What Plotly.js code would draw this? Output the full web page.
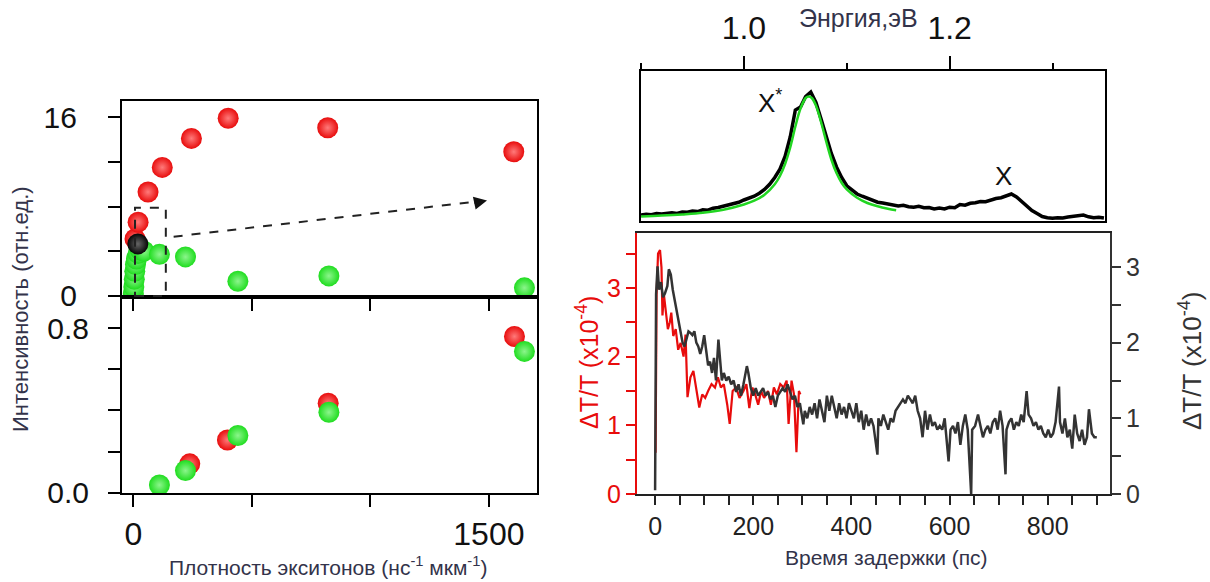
<!DOCTYPE html>
<html><head><meta charset="utf-8">
<script src="https://cdn.plot.ly/plotly-3.0.1.min.js"></script>
<style>body{margin:0;background:#fff}#chart{width:1210px;height:582px}</style>
</head><body><div id="chart"></div>
<script>
// ---- Left panels: intensity vs exciton density ----
const topRedX = [7, 20, 62, 122, 245, 400, 820, 1605];
const topRedY = [5.1, 6.6, 9.3, 11.5, 14.1, 15.9, 15.05, 12.9];
const topGreenX = [0, 2, 4, 6, 9, 13, 20, 30, 45, 110, 220, 441, 825, 1650];
const topGreenY = [0.2, 0.8, 1.5, 2.2, 2.8, 3.3, 3.8, 4.1, 4.0, 3.72, 3.49, 1.31, 1.79, 0.72];
const topBlackX = [19];
const topBlackY = [4.65];
const botRedX = [238, 397, 822, 1608];
const botRedY = [0.14, 0.256, 0.435, 0.76];
const botGreenX = [110, 220, 441, 825, 1650];
const botGreenY = [0.037, 0.107, 0.278, 0.391, 0.687];

// ---- Spectrum (top right) ----
const energy = [0.900,0.905,0.910,0.915,0.920,0.925,0.930,0.935,0.940,0.945,0.950,0.955,0.960,0.965,0.970,0.975,0.980,0.985,0.990,0.995,
1.000,1.005,1.010,1.015,1.020,1.025,1.030,1.035,1.040,1.045,1.050,1.055,1.060,1.065,1.070,1.075,1.080,1.085,1.090,1.095,
1.100,1.105,1.110,1.115,1.120,1.125,1.130,1.135,1.140,1.145,1.150,1.155,1.160,1.165,1.170,1.175,1.180,1.185,1.190,1.195,
1.200,1.205,1.210,1.215,1.220,1.225,1.230,1.235,1.240,1.245,1.250,1.255,1.260,1.265,1.270,1.275,1.280,1.285,1.290,1.295,
1.300,1.305,1.310,1.315,1.320,1.325,1.330,1.335,1.340,1.345,1.350];
const plSignal = [0.040,0.045,0.042,0.050,0.046,0.052,0.055,0.050,0.060,0.058,0.066,0.063,0.075,0.072,0.085,0.090,0.098,0.110,0.120,0.125,
0.140,0.150,0.165,0.185,0.210,0.245,0.290,0.345,0.430,0.560,0.740,0.760,0.830,0.860,0.790,0.680,0.560,0.450,0.360,0.290,
0.235,0.205,0.180,0.165,0.150,0.140,0.125,0.120,0.115,0.110,0.100,0.105,0.095,0.092,0.098,0.088,0.090,0.080,0.086,0.080,
0.092,0.088,0.110,0.105,0.118,0.122,0.130,0.128,0.142,0.150,0.155,0.165,0.180,0.160,0.130,0.100,0.070,0.050,0.030,0.022,
0.018,0.022,0.020,0.026,0.030,0.036,0.040,0.028,0.022,0.025,0.020];
const fitEnergy = [0.90,0.92,0.94,0.96,0.98,1.00,1.01,1.02,1.03,1.035,1.04,1.045,1.05,1.055,1.06,1.063,1.066,1.07,1.075,1.08,1.085,1.09,1.095,1.10,1.11,1.12,1.13,1.14,1.148];
const fitSignal = [0.030,0.036,0.044,0.055,0.075,0.110,0.135,0.175,0.245,0.300,0.380,0.490,0.630,0.750,0.820,0.830,0.820,0.770,0.660,0.530,0.410,0.320,0.255,0.210,0.155,0.120,0.098,0.082,0.072];

// ---- Pump-probe (bottom right) ----
const redT = [1,3,6,10,13,15,18,22,26,30,33,37,42,47,52,58,62,66,72,78,84,90,96,102,108,115,122,128,134,140,147,152,158,165,172,180,186,192,198,204,210,216,222,230,236,242,248,255,262,268,272,278,283,288,293,296];
const redDT = [0.6,2.9,3.5,3.55,3.3,2.6,2.9,2.6,2.4,2.5,2.64,2.3,2.4,2.1,2.2,2.0,2.32,1.41,1.7,1.79,1.5,1.26,1.45,1.4,1.5,1.6,1.55,1.7,1.55,1.6,1.3,1.02,1.5,1.55,1.4,1.5,1.6,1.25,1.55,1.45,1.3,1.5,1.4,1.5,1.3,1.55,1.45,1.6,1.55,1.65,1.02,1.65,1.45,0.61,1.5,1.45];
const blackT = [0,2,5,8,12,16,20,25,28,32,36,40,44,48,52,56,60,64,68,72,76,80,84,88,92,96,100,104,108,112,116,120,124,129,133,136,140,145,150,155,160,165,170,175,180,187,190,195,200,205,210,215,220,225,230,235,240,245,250,255,260,265,270,275,280,285,290,295,
302,305,310,315,320,325,330,335,340,345,350,355,360,365,370,375,380,385,390,395,400,405,410,415,420,425,430,435,440,445,453,455,460,465,470,475,480,485,490,495,500,505,510,515,520,525,530,535,540,545,550,555,560,565,570,575,580,585,590,595,598,602,607,612,617,622,627,632,637,644,646,652,658,663,668,673,678,683,688,693,698,703,708,714,716,721,726,731,736,741,746,751,757,761,766,771,776,781,786,791,796,801,806,811,816,823,825,830,835,840,845,850,855,860,865,870,875,880,884,890,895,900];
const blackDT = [0.05,2.64,3.01,2.7,2.8,2.6,2.65,2.75,2.97,2.9,2.7,2.55,2.4,2.3,2.15,2.0,1.95,2.05,2.15,2.13,2.1,2.15,2.0,1.95,1.85,1.95,2.1,1.9,1.7,1.75,1.6,1.8,1.5,2.04,1.65,1.5,1.6,1.5,1.55,1.45,1.5,1.35,1.45,1.3,1.45,1.69,1.6,1.4,1.3,1.4,1.3,1.35,1.4,1.3,1.35,1.25,1.3,1.15,1.3,1.35,1.4,1.35,1.45,1.35,1.25,1.3,1.15,1.2,
0.92,1.1,1.0,1.15,1.05,1.2,1.0,1.25,1.1,0.95,1.3,1.1,1.3,1.15,1.0,1.2,1.05,1.15,1.0,1.2,1.1,1.0,1.2,0.95,1.1,0.85,1.05,0.9,1.0,0.9,0.52,1.0,0.9,1.05,0.95,0.85,1.0,0.95,1.1,1.15,1.2,1.25,1.2,1.3,1.25,1.2,1.3,1.1,1.0,0.75,1.1,0.85,1.05,0.9,0.95,0.85,0.9,0.85,1.0,0.7,0.43,0.85,0.9,0.8,0.95,0.65,0.9,1.05,0.85,0.0,0.85,0.9,1.05,0.9,0.75,0.85,0.9,0.8,0.95,1.0,0.85,1.1,0.9,0.26,0.85,0.95,1.0,0.85,0.95,0.9,1.05,0.95,1.36,1.05,1.0,0.9,0.95,0.85,0.9,0.8,0.75,0.85,0.75,0.8,0.95,1.42,0.95,0.8,1.0,0.75,0.85,0.6,1.05,0.8,0.7,0.85,0.65,0.75,1.12,0.8,0.75,0.75];

// ---- Tick labels ----
const densTickVals = [0, 500, 1000, 1500];
const densTickText = ['0', '', '', '1500'];
const intTopTickVals = [0, 4, 8, 12, 16];
const intTopTickText = ['0', '', '', '', '16'];
const intBotTickVals = [0, 0.2, 0.4, 0.6, 0.8];
const intBotTickText = ['0.0', '', '', '', '0.8'];

const FONT = 'Liberation Sans, Arial, Helvetica, sans-serif';
const RED = '#e80c0c', GREEN = '#1fdd1f', DARK = '#333333', TITLE = '#33334a';

function sphere(color, center) {
  return {size: 21, color: color, gradient: {type: 'radial', color: center}, line: {width: 0}};
}

const traces = [
  {x: topGreenX, y: topGreenY, xaxis: 'x', yaxis: 'y', mode: 'markers', marker: sphere(GREEN, '#8cf58c'), hoverinfo: 'skip'},
  {x: topRedX, y: topRedY, xaxis: 'x', yaxis: 'y', mode: 'markers', marker: sphere(RED, '#ff7a7a'), hoverinfo: 'skip'},
  {x: topBlackX, y: topBlackY, xaxis: 'x', yaxis: 'y', mode: 'markers', marker: sphere('#050505', '#666666'), hoverinfo: 'skip'},
  {x: botRedX, y: botRedY, xaxis: 'x2', yaxis: 'y2', mode: 'markers', marker: sphere(RED, '#ff7a7a'), hoverinfo: 'skip'},
  {x: botGreenX, y: botGreenY, xaxis: 'x2', yaxis: 'y2', mode: 'markers', marker: sphere(GREEN, '#8cf58c'), hoverinfo: 'skip'},
  {x: energy, y: plSignal, xaxis: 'x3', yaxis: 'y3', mode: 'lines', line: {color: '#000', width: 3.5}, hoverinfo: 'skip'},
  {x: fitEnergy, y: fitSignal, xaxis: 'x3', yaxis: 'y3', mode: 'lines', line: {color: '#22d622', width: 2.5, shape: 'spline'}, hoverinfo: 'skip'},
  {x: redT, y: redDT, xaxis: 'x4', yaxis: 'y4', mode: 'lines', line: {color: RED, width: 2.2}, hoverinfo: 'skip'},
  {x: blackT, y: blackDT, xaxis: 'x4', yaxis: 'y5', mode: 'lines', line: {color: DARK, width: 2.5}, hoverinfo: 'skip'}
];

const axBase = {showgrid: false, zeroline: false, showline: true, linecolor: '#000', linewidth: 2,
  ticks: 'outside', tickcolor: '#000', tickwidth: 2, tickfont: {family: FONT, size: 32, color: '#111'}};
const yLeftFont = {family: FONT, size: 30, color: '#111'};

function title(x, y, text, size, color, angle) {
  return {xref: 'paper', yref: 'paper', x: x / 1210, y: 1 - y / 582, xanchor: 'center', yanchor: 'middle',
    text: text, textangle: angle || 0, showarrow: false, font: {family: FONT, size: size, color: color}};
}

const layout = {
  width: 1210, height: 582, margin: {l: 0, r: 0, t: 0, b: 0},
  paper_bgcolor: '#fff', plot_bgcolor: 'rgba(0,0,0,0)', showlegend: false,
  xaxis: Object.assign({}, axBase, {domain: [0.1008, 0.4438], anchor: 'y', range: [-48, 1703],
    tickmode: 'array', tickvals: densTickVals, ticktext: densTickText, showticklabels: false, ticklen: 12, mirror: true}),
  yaxis: Object.assign({}, axBase, {domain: [0.4897, 0.8265], anchor: 'x', range: [-0.1, 17.45], tickfont: yLeftFont,
    tickmode: 'array', tickvals: intTopTickVals, ticktext: intTopTickText, ticklen: 12, mirror: true, ticklabelstandoff: 25}),
  xaxis2: Object.assign({}, axBase, {domain: [0.1008, 0.4438], anchor: 'y2', range: [-48, 1703],
    tickmode: 'array', tickvals: densTickVals, ticktext: densTickText, ticklen: 12, mirror: true}),
  yaxis2: Object.assign({}, axBase, {domain: [0.1529, 0.4897], anchor: 'x2', range: [-0.002, 0.952], tickfont: yLeftFont,
    tickmode: 'array', tickvals: intBotTickVals, ticktext: intBotTickText, ticklen: 12, mirror: true, ticklabelstandoff: 13}),
  xaxis3: Object.assign({}, axBase, {domain: [0.5298, 0.9132], anchor: 'y3', side: 'top', range: [0.9, 1.351],
    tick0: 1.0, dtick: 0.2, tickformat: '.1f', ticklen: 13, mirror: true, ticklabelstandoff: 4,
    tickfont: {family: FONT, size: 32, color: '#111'},
    minor: {dtick: 0.1, tick0: 0.9, ticklen: 6, tickwidth: 2, tickcolor: '#000', ticks: 'outside'}}),
  yaxis3: Object.assign({}, axBase, {domain: [0.6203, 0.878], anchor: 'x3', range: [0, 1], ticks: '', showticklabels: false, mirror: true}),
  xaxis4: Object.assign({}, axBase, {domain: [0.5264, 0.9174], anchor: 'y4', range: [-37, 927], linewidth: 2,
    tick0: 0, dtick: 200, ticklen: 9, linecolor: '#222', tickcolor: '#222', mirror: true,
    tickfont: {family: FONT, size: 25, color: '#222'},
    minor: {dtick: 50, ticklen: 9, tickwidth: 2, tickcolor: '#222', ticks: 'outside'}}),
  yaxis4: Object.assign({}, axBase, {domain: [0.1512, 0.5997], anchor: 'x4', range: [0, 3.8], linecolor: RED, tickcolor: RED,
    dtick: 1, ticklen: 9, tickfont: {family: FONT, size: 25, color: RED},
    minor: {dtick: 0.5, ticklen: 9, tickwidth: 2, tickcolor: RED, ticks: 'outside'}}),
  yaxis5: Object.assign({}, axBase, {overlaying: 'y4', side: 'right', anchor: 'x4', range: [0, 3.45], linecolor: DARK, tickcolor: DARK,
    dtick: 1, ticklen: 9, tickfont: {family: FONT, size: 25, color: DARK},
    minor: {dtick: 0.5, ticklen: 9, tickwidth: 2, tickcolor: DARK, ticks: 'outside'}}),
  shapes: [
    {type: 'rect', xref: 'x', yref: 'y', x0: 7, x1: 137, y0: 0, y1: 7.9, line: {color: '#222', width: 2, dash: 'dash'}},
    {type: 'line', xref: 'x', yref: 'y', x0: 170, y0: 5.3, x1: 1470, y1: 8.5, line: {color: '#222', width: 2, dash: 'dash'}}
  ],
  annotations: [
    {xref: 'x', yref: 'y', x: 1492, y: 8.55, ax: -14, ay: 3, axref: 'pixel', showarrow: true, arrowhead: 2, arrowsize: 1.3, arrowwidth: 2, arrowcolor: '#111', text: ''},
    title(20, 309, 'Интенсивность (отн.ед.)', 22, TITLE, -90),
    title(328, 566, 'Плотность экситонов (нс<sup>-1</sup> мкм<sup>-1</sup>)', 21, TITLE),
    title(858, 18, 'Энргия,эВ', 25, TITLE),
    title(886, 557, 'Время задержки (пс)', 21, TITLE),
    title(587, 363, 'ΔT/T (x10<sup>-4</sup>)', 25, RED, -90),
    title(1190, 361, 'ΔT/T (x10<sup>-4</sup>)', 26, DARK, -90),
    {xref: 'x3', yref: 'y3', x: 1.025, y: 0.80, text: 'X<sup>*</sup>', showarrow: false, font: {family: FONT, size: 26, color: '#111'}},
    {xref: 'x3', yref: 'y3', x: 1.252, y: 0.30, text: 'X', showarrow: false, font: {family: FONT, size: 26, color: '#111'}}
  ]
};

Plotly.newPlot('chart', traces, layout, {staticPlot: true, displayModeBar: false});
</script></body></html>
